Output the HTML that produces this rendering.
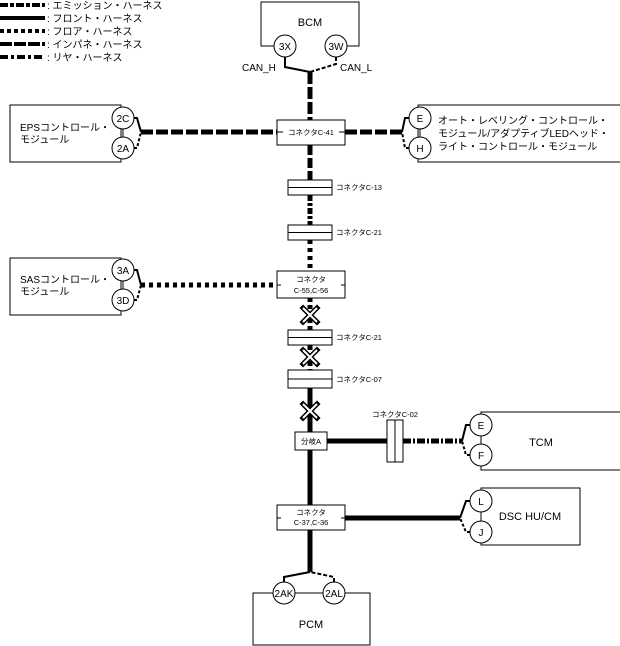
<!DOCTYPE html>
<html><head><meta charset="utf-8"><style>
body{margin:0;background:#fff}
svg{display:block}
text{font-family:"Liberation Sans","Noto Sans CJK JP",sans-serif;fill:#000}
</style></head><body>
<svg width="620" height="646" viewBox="0 0 620 646" xmlns="http://www.w3.org/2000/svg">
<g stroke="#000" stroke-width="4" fill="none">
<line x1="0" y1="5" x2="45" y2="5" stroke-dasharray="8,2,4,2"/>
<line x1="0" y1="18" x2="45" y2="18"/>
<line x1="0" y1="31" x2="45" y2="31" stroke-dasharray="4,3"/>
<line x1="0" y1="44" x2="45" y2="44" stroke-dasharray="12,2"/>
<line x1="0" y1="57" x2="45" y2="57" stroke-dasharray="8,3,3,3"/>
</g>
<g font-size="10">
<text x="47" y="9">: エミッション・ハーネス</text>
<text x="47" y="22">: フロント・ハーネス</text>
<text x="47" y="35">: フロア・ハーネス</text>
<text x="47" y="48">: インパネ・ハーネス</text>
<text x="47" y="61">: リヤ・ハーネス</text>
</g>

<g stroke="#000" stroke-width="5" fill="none">
<line x1="310" y1="72" x2="310" y2="120" stroke-dasharray="12,3"/>
<line x1="310" y1="145" x2="310" y2="180" stroke-dasharray="10,3"/>
<line x1="310" y1="195" x2="310" y2="225" stroke-dasharray="6,2,3,2"/>
<line x1="310" y1="240" x2="310" y2="271" stroke-dasharray="4,4"/>
<line x1="310" y1="298" x2="310" y2="330" stroke-dasharray="4,3"/>
<line x1="310" y1="345" x2="310" y2="370" stroke-dasharray="5,3"/>
<line x1="310" y1="388" x2="310" y2="432"/>
<line x1="310" y1="450" x2="310" y2="505"/>
<line x1="310" y1="530" x2="310" y2="572"/>
<line x1="141" y1="132" x2="277" y2="132" stroke-dasharray="12,3"/>
<line x1="345" y1="132" x2="402" y2="132" stroke-dasharray="12,3"/>
<line x1="141" y1="285" x2="277" y2="285" stroke-dasharray="4,4"/>
<line x1="327" y1="441" x2="387" y2="441"/>
<line x1="403" y1="441" x2="462" y2="441" stroke-dasharray="8,2,2,2"/>
<line x1="345" y1="518" x2="460" y2="518"/>
</g>
<g stroke="#000" stroke-width="2" fill="none">
<polyline points="285,57 285,67 310,72"/>
<polyline points="336,57 336,64 310,72" stroke-dasharray="4,2"/>
<polyline points="134,118 137,118 141,132"/>
<polyline points="134,148 137,148 141,132" stroke-dasharray="3,2"/>
<polyline points="134,270 137,270 141,285"/>
<polyline points="134,300 137,300 141,285" stroke-dasharray="3,2"/>
<polyline points="409,118 405,118 402,132"/>
<polyline points="409,148 405,148 402,132" stroke-dasharray="3,2"/>
<polyline points="470,425 466,425 462,441"/>
<polyline points="470,455 466,455 462,441" stroke-dasharray="3,2"/>
<polyline points="470,501 466,501 460,518"/>
<polyline points="470,532 466,532 460,518" stroke-dasharray="3,2"/>
<polyline points="284,582 284,577 310,572"/>
<polyline points="334,582 334,577 310,572" stroke-dasharray="4,2"/>
</g>
<g stroke="#000" stroke-width="1" fill="#fff">
<polyline points="274,46 261,46 261,2 359,2 359,46 347,46" fill="none"/>
<rect x="10" y="105" width="111" height="57"/>
<rect x="10" y="258" width="111" height="57"/>
<rect x="418" y="105" width="205" height="57"/>
<rect x="481" y="412" width="145" height="58"/>
<rect x="481" y="488" width="99" height="57"/>
<rect x="253" y="593" width="117" height="52"/>
<line x1="123" y1="118" x2="123" y2="148"/>
<line x1="123" y1="270" x2="123" y2="300"/>
<line x1="420" y1="118" x2="420" y2="148"/>
<line x1="481" y1="425" x2="481" y2="455"/>
<line x1="481" y1="501" x2="481" y2="532"/>
<rect x="277" y="120" width="68" height="25"/>
<rect x="277" y="271" width="68" height="27"/>
<rect x="277" y="505" width="68" height="25"/>
<rect x="295" y="432" width="32" height="18"/>
<rect x="288" y="180" width="44" height="15"/><line x1="288" y1="187.5" x2="332" y2="187.5"/>
<rect x="288" y="225" width="44" height="15"/><line x1="288" y1="232.5" x2="332" y2="232.5"/>
<rect x="288" y="330" width="44" height="15"/><line x1="288" y1="337.5" x2="332" y2="337.5"/>
<rect x="288" y="370" width="44" height="18"/><line x1="288" y1="379" x2="332" y2="379"/>
<rect x="387" y="420" width="16" height="42"/><line x1="395" y1="420" x2="395" y2="462"/>
<circle cx="285" cy="46" r="11"/><circle cx="336" cy="46" r="11"/>
<circle cx="123" cy="118" r="11"/><circle cx="123" cy="148" r="11"/>
<circle cx="123" cy="270" r="11"/><circle cx="123" cy="300" r="11"/>
<circle cx="420" cy="118" r="11"/><circle cx="420" cy="148" r="11"/>
<circle cx="481" cy="425" r="11"/><circle cx="481" cy="455" r="11"/>
<circle cx="481" cy="501" r="11"/><circle cx="481" cy="532" r="11"/>
<circle cx="284" cy="593" r="11"/><circle cx="334" cy="593" r="11"/>
</g>
<g stroke="#000" stroke-width="5" stroke-linecap="square">
<path d="M303,308 L317,322 M317,308 L303,322"/>
<path d="M303,350 L317,364 M317,350 L303,364"/>
<path d="M303,404 L317,418 M317,404 L303,418"/>
</g>
<g stroke="#fff" stroke-width="2">
<path d="M303,308 L317,322 M317,308 L303,322"/>
<path d="M303,350 L317,364 M317,350 L303,364"/>
<path d="M303,404 L317,418 M317,404 L303,418"/>
</g>
<g stroke="#000" stroke-width="1">
<line x1="277" y1="132" x2="283" y2="132"/><line x1="339" y1="132" x2="345" y2="132"/>
<line x1="277" y1="285" x2="281" y2="285"/><line x1="341" y1="285" x2="345" y2="285"/>
<line x1="277" y1="518" x2="281" y2="518"/><line x1="341" y1="518" x2="345" y2="518"/>
</g>
<g font-size="10" text-anchor="middle">
<text x="310" y="26" font-size="11">BCM</text>
<text x="285" y="50">3X</text><text x="336" y="50">3W</text>
<text x="123" y="122">2C</text><text x="123" y="152">2A</text>
<text x="123" y="274">3A</text><text x="123" y="304">3D</text>
<text x="420" y="122">E</text><text x="420" y="152">H</text>
<text x="481" y="429">E</text><text x="481" y="459">F</text>
<text x="481" y="505">L</text><text x="481" y="536">J</text>
<text x="284" y="597">2AK</text><text x="334" y="597">2AL</text>
<text x="311" y="135" font-size="7.5">コネクタC-41</text>
<text x="311" y="282" font-size="7.5">コネクタ</text>
<text x="311" y="293" font-size="7.5">C-55,C-56</text>
<text x="311" y="515" font-size="7.5">コネクタ</text>
<text x="311" y="525" font-size="7.5">C-37,C-36</text>
<text x="311" y="444" font-size="7.5">分岐A</text>
<text x="311" y="628" font-size="11">PCM</text>
<text x="541" y="446" font-size="11">TCM</text>
<text x="530" y="520" font-size="11">DSC HU/CM</text>
</g>
<g font-size="10">
<text x="242" y="71">CAN_H</text>
<text x="340" y="71">CAN_L</text>
<text x="20" y="131">EPSコントロール・</text>
<text x="20" y="143">モジュール</text>
<text x="20" y="283">SASコントロール・</text>
<text x="20" y="295">モジュール</text>
<text x="438" y="124">オート・レベリング・コントロール・</text>
<text x="438" y="137">モジュール/アダプティブLEDヘッド・</text>
<text x="438" y="150">ライト・コントロール・モジュール</text>
</g>
<g font-size="7.5">
<text x="336" y="190">コネクタC-13</text>
<text x="336" y="235">コネクタC-21</text>
<text x="336" y="340">コネクタC-21</text>
<text x="336" y="382">コネクタC-07</text>
<text x="372" y="417">コネクタC-02</text>
</g>
</svg>
</body></html>
